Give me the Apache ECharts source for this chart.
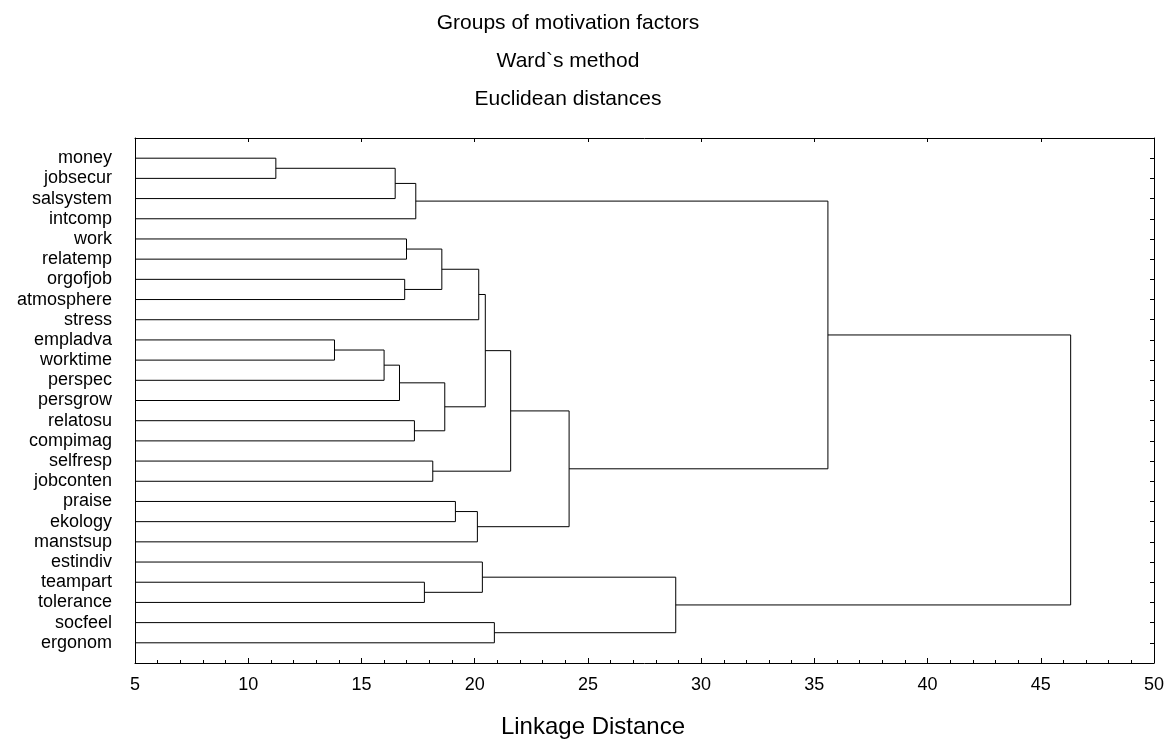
<!DOCTYPE html>
<html>
<head>
<meta charset="utf-8">
<script src="https://cdn.jsdelivr.net/npm/echarts@6/dist/echarts.min.js"></script>
<style>
html,body{margin:0;padding:0;background:#fff;}
#chart{width:1169px;height:744px;}
</style>
</head>
<body>
<div id="chart"></div>
<script>
// Leaf labels (top to bottom)
const leaves = ['money','jobsecur','salsystem','intcomp','work','relatemp','orgofjob','atmosphere','stress',
  'empladva','worktime','perspec','persgrow','relatosu','compimag','selfresp','jobconten','praise','ekology',
  'manstsup','estindiv','teampart','tolerance','socfeel','ergonom'];
// Merges: [child A id, child B id, linkage distance]; new node ids start at leaves.length
const merges = [
  [0, 1, 11.22],   // 25
  [25, 2, 16.49],  // 26
  [26, 3, 17.40],  // 27
  [4, 5, 16.99],   // 28
  [6, 7, 16.91],   // 29
  [28, 29, 18.55], // 30
  [30, 8, 20.18],  // 31
  [9, 10, 13.81],  // 32
  [32, 11, 16.00], // 33
  [33, 12, 16.68], // 34
  [13, 14, 17.34], // 35
  [34, 35, 18.68], // 36
  [31, 36, 20.47], // 37
  [15, 16, 18.15], // 38
  [37, 38, 21.59], // 39
  [17, 18, 19.15], // 40
  [40, 19, 20.12], // 41
  [39, 41, 24.17], // 42
  [27, 42, 35.60], // 43
  [21, 22, 17.78], // 44
  [20, 44, 20.34], // 45
  [23, 24, 20.87], // 46
  [45, 46, 28.88], // 47
  [43, 47, 46.32]  // 48
];
const xMin = 5, xMax = 50, xStep = 5;
const titleLines = ['Groups of motivation factors', 'Ward`s method', 'Euclidean distances'];
const xName = 'Linkage Distance';

// Build link polylines from the tree structure
const pos = [], hgt = [];
leaves.forEach((n, i) => { pos[i] = i + 1; hgt[i] = xMin; });
const links = [];
merges.forEach((m, k) => {
  const id = leaves.length + k;
  const [a, b, h] = m;
  pos[id] = (pos[a] + pos[b]) / 2;
  hgt[id] = h;
  links.push([hgt[a], pos[a], h, pos[b], hgt[b]]);
});

const FONT = 'Liberation Sans, Arial, sans-serif';
const chart = echarts.init(document.getElementById('chart'), null, {renderer: 'canvas'});
const yMax = leaves.length + 1;
const lineStyle = {color: '#000', width: 1};

chart.setOption({
  animation: false,
  backgroundColor: '#fff',
  title: [
    {
      text: titleLines.join('\n'),
      left: 568, top: 4, padding: 0, textAlign: 'center',
      textStyle: {fontFamily: FONT, fontSize: 21, fontWeight: 'normal', color: '#000', lineHeight: 38}
    },
    {
      text: xName,
      left: 593, top: 715, padding: 0, textAlign: 'center',
      textStyle: {fontFamily: FONT, fontSize: 24, fontWeight: 'normal', color: '#000'}
    }
  ],
  grid: {left: 135, right: 15, top: 138, bottom: 81, containLabel: false},
  xAxis: [
    {
      type: 'value', position: 'bottom', min: xMin, max: xMax, interval: xStep,
      axisLine: {show: true, onZero: false, lineStyle: lineStyle},
      axisTick: {show: true, inside: true, length: 5, lineStyle: lineStyle},
      minorTick: {show: true, splitNumber: 5, length: 3, lineStyle: lineStyle},
      splitLine: {show: false},
      axisLabel: {fontFamily: FONT, fontSize: 18, color: '#000', margin: 13}
    },
    {
      type: 'value', position: 'top', min: xMin, max: xMax, interval: xStep,
      axisLine: {show: true, onZero: false, lineStyle: lineStyle},
      axisTick: {show: true, inside: true, length: 4, lineStyle: lineStyle},
      splitLine: {show: false},
      axisLabel: {show: false}
    }
  ],
  yAxis: [
    {
      type: 'value', position: 'left', min: 0, max: yMax, interval: 1, inverse: true,
      axisLine: {show: true, onZero: false, lineStyle: lineStyle},
      axisTick: {show: false},
      splitLine: {show: false},
      axisLabel: {
        fontFamily: FONT, fontSize: 18, color: '#000', margin: 23,
        formatter: v => leaves[v - 1] || ''
      }
    },
    {
      type: 'value', position: 'right', min: 0, max: yMax, interval: 1, inverse: true,
      axisLine: {show: true, onZero: false, lineStyle: lineStyle},
      axisTick: {show: true, inside: true, length: 4, lineStyle: lineStyle},
      splitLine: {show: false},
      axisLabel: {show: false}
    }
  ],
  series: [{
    type: 'custom',
    xAxisIndex: 0, yAxisIndex: 0,
    data: links,
    encode: {x: [0, 2, 4], y: [1, 3]},
    renderItem: (params, api) => {
      const p1 = api.coord([api.value(0), api.value(1)]);
      const p2 = api.coord([api.value(2), api.value(1)]);
      const p3 = api.coord([api.value(2), api.value(3)]);
      const p4 = api.coord([api.value(4), api.value(3)]);
      return {
        type: 'polyline',
        shape: {points: [p1, p2, p3, p4]},
        style: {stroke: '#000', lineWidth: 1, fill: null}
      };
    }
  }]
});
</script>
</body>
</html>
